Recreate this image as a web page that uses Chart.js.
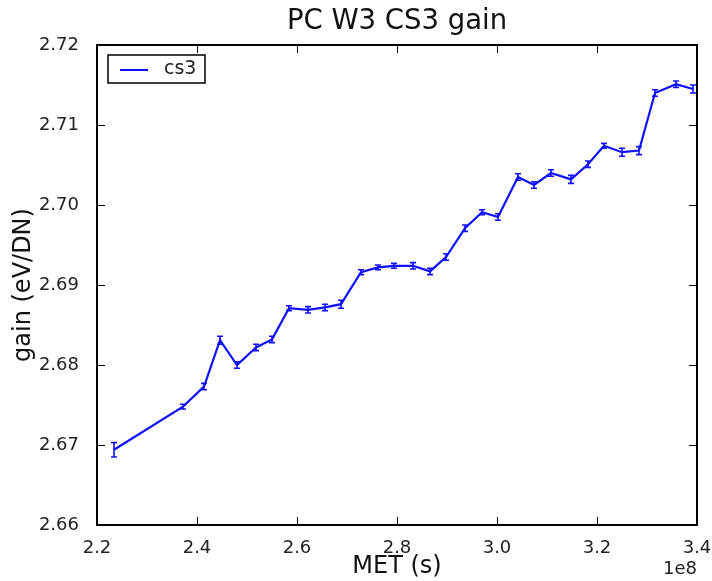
<!DOCTYPE html>
<html>
<head>
<meta charset="utf-8">
<title>PC W3 CS3 gain</title>
<script src="https://cdn.jsdelivr.net/npm/chart.js@4"></script>
<style>
  html, body { margin: 0; padding: 0; background: #fff; }
  #gainChart { display: block; }
</style>
</head>
<body>
<canvas id="gainChart" width="712" height="581"></canvas>
<script>
// Mission elapsed time of each calibration (s)
var metTimes = [
  2.234e8, 2.372e8, 2.414e8, 2.446e8, 2.480e8, 2.518e8, 2.550e8, 2.584e8,
  2.622e8, 2.656e8, 2.688e8, 2.728e8, 2.762e8, 2.794e8, 2.832e8, 2.866e8,
  2.898e8, 2.936e8, 2.970e8, 3.002e8, 3.042e8, 3.074e8, 3.108e8, 3.148e8,
  3.182e8, 3.214e8, 3.250e8, 3.284e8, 3.316e8, 3.358e8, 3.392e8
];
// cs3 gain (eV/DN) and its uncertainty
var gainValues = [
  2.6694, 2.6748, 2.6773, 2.6831, 2.6800, 2.6822, 2.6832, 2.6871,
  2.6869, 2.6872, 2.6876, 2.6916, 2.6922, 2.6924, 2.6924, 2.6917,
  2.6935, 2.6971, 2.6991, 2.6985, 2.7035, 2.7025, 2.7040, 2.7032,
  2.7051, 2.7074, 2.7066, 2.7068, 2.7140, 2.7151, 2.7145
];
var gainErrors = [
  0.0009, 0.0003, 0.0004, 0.0005, 0.0004, 0.0004, 0.0004, 0.0003,
  0.0004, 0.0004, 0.0005, 0.0003, 0.0003, 0.0003, 0.0004, 0.0004,
  0.0004, 0.0004, 0.0003, 0.0004, 0.0004, 0.0004, 0.0004, 0.0005,
  0.0004, 0.0003, 0.0005, 0.0005, 0.0004, 0.0004, 0.0005
];
var xTickValues = [2.2e8, 2.4e8, 2.6e8, 2.8e8, 3.0e8, 3.2e8, 3.4e8];
var yTickValues = [2.66, 2.67, 2.68, 2.69, 2.70, 2.71, 2.72];
var seriesName = "cs3";
var xOffsetLabel = "1e8";

var FONT = "'DejaVu Sans', sans-serif";
var LINE_BLUE = "#1010ff";

var points = metTimes.map(function (t, i) {
  return { x: t, y: gainValues[i] };
});

// error bars, axes frame with inward ticks, offset text and legend box
var decorations = {
  id: "decorations",
  beforeDatasetsDraw: function (chart) {
    var ctx = chart.ctx;
    var xs = chart.scales.x, ys = chart.scales.y;
    ctx.save();
    ctx.strokeStyle = LINE_BLUE;
    ctx.lineWidth = 1.6;
    metTimes.forEach(function (t, i) {
      var px = xs.getPixelForValue(t);
      var top = ys.getPixelForValue(gainValues[i] + gainErrors[i]);
      var bot = ys.getPixelForValue(gainValues[i] - gainErrors[i]);
      ctx.beginPath();
      ctx.moveTo(px, top); ctx.lineTo(px, bot);
      ctx.moveTo(px - 3, top); ctx.lineTo(px + 3, top);
      ctx.moveTo(px - 3, bot); ctx.lineTo(px + 3, bot);
      ctx.stroke();
    });
    ctx.restore();
  },
  afterDatasetsDraw: function (chart) {
    var ctx = chart.ctx;
    var a = chart.chartArea;
    var xs = chart.scales.x, ys = chart.scales.y;
    ctx.save();
    // inward tick marks on all four sides
    ctx.strokeStyle = "#000";
    ctx.lineWidth = 1;
    var len = 8;
    ctx.beginPath();
    xTickValues.forEach(function (v) {
      var px = Math.round(xs.getPixelForValue(v)) + 0.5;
      ctx.moveTo(px, a.bottom); ctx.lineTo(px, a.bottom - len);
      ctx.moveTo(px, a.top); ctx.lineTo(px, a.top + len);
    });
    yTickValues.forEach(function (v) {
      var py = Math.round(ys.getPixelForValue(v)) + 0.5;
      ctx.moveTo(a.left, py); ctx.lineTo(a.left + len, py);
      ctx.moveTo(a.right, py); ctx.lineTo(a.right - len, py);
    });
    ctx.stroke();
    // frame
    ctx.lineWidth = 2;
    ctx.strokeRect(a.left, a.top, a.right - a.left, a.bottom - a.top);

    // offset text under the x axis
    ctx.fillStyle = "#222";
    ctx.font = "18px " + FONT;
    ctx.textAlign = "right";
    ctx.textBaseline = "middle";
    ctx.fillText(xOffsetLabel, a.right, a.bottom + 44);

    // legend box in the upper left corner
    var lx = a.left + 11, ly = a.top + 10, lw = 97, lh = 28;
    ctx.fillStyle = "#fff";
    ctx.fillRect(lx, ly, lw, lh);
    ctx.lineWidth = 1.5;
    ctx.strokeStyle = "#000";
    ctx.strokeRect(lx, ly, lw, lh);
    ctx.strokeStyle = LINE_BLUE;
    ctx.lineWidth = 2;
    ctx.beginPath();
    ctx.moveTo(lx + 12, ly + 15);
    ctx.lineTo(lx + 40, ly + 15);
    ctx.stroke();
    ctx.fillStyle = "#222";
    ctx.font = "19px " + FONT;
    ctx.textAlign = "left";
    ctx.fillText(seriesName, lx + 56, ly + 14);
    ctx.restore();
  }
};

new Chart(document.getElementById("gainChart"), {
  type: "scatter",
  data: {
    datasets: [{
      label: seriesName,
      data: points,
      showLine: true,
      borderColor: LINE_BLUE,
      backgroundColor: LINE_BLUE,
      borderWidth: 2.2,
      pointRadius: 0,
      tension: 0
    }]
  },
  options: {
    responsive: false,
    animation: false,
    layout: { padding: { top: 0, right: 15, bottom: 0, left: 0 } },
    plugins: {
      legend: { display: false },
      tooltip: { enabled: false },
      title: {
        display: true,
        text: "PC W3 CS3 gain",
        fullSize: false,
        color: "#111",
        font: { family: FONT, size: 27.5, weight: "normal", lineHeight: 1.2 },
        padding: { top: 5, bottom: 7 }
      }
    },
    scales: {
      x: {
        type: "linear",
        min: 2.2e8,
        max: 3.4e8,
        afterFit: function (scale) {
          scale.height = 56;
          scale.paddingLeft = 0;
          scale.paddingRight = 0;
        },
        afterBuildTicks: function (scale) {
          scale.ticks = xTickValues.map(function (v) { return { value: v }; });
        },
        grid: { display: false },
        border: { display: false },
        ticks: {
          color: "#222",
          padding: 5,
          maxRotation: 0,
          font: { family: FONT, size: 18 },
          callback: function (v) { return (v / 1e8).toFixed(1); }
        },
        title: {
          display: true,
          text: "MET (s)",
          color: "#111",
          font: { family: FONT, size: 24, lineHeight: 1.2 },
          padding: { top: 0, bottom: 0 }
        }
      },
      y: {
        min: 2.66,
        max: 2.72,
        afterFit: function (scale) { scale.width = 97; },
        afterBuildTicks: function (scale) {
          scale.ticks = yTickValues.map(function (v) { return { value: v }; });
        },
        grid: { display: false },
        border: { display: false },
        ticks: {
          color: "#222",
          padding: 10,
          font: { family: FONT, size: 18 },
          callback: function (v) { return v.toFixed(2); }
        },
        title: {
          display: true,
          text: "gain (eV/DN)",
          color: "#111",
          font: { family: FONT, size: 24, lineHeight: 1.2 },
          padding: { top: 9, bottom: 0 }
        }
      }
    }
  },
  plugins: [decorations]
});
</script>
</body>
</html>
